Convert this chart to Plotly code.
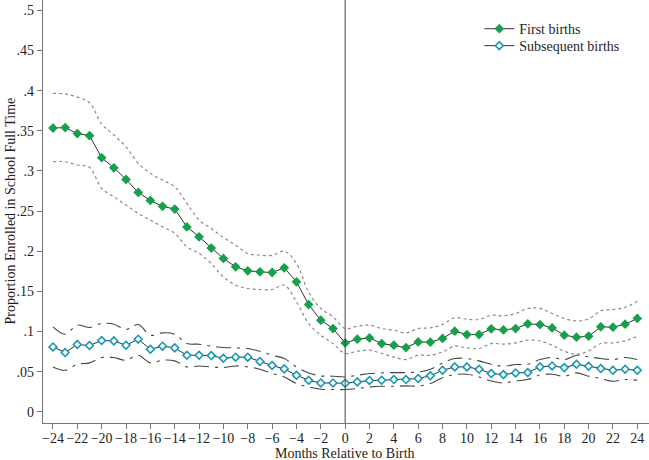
import plotly.graph_objects as go

months = list(range(-24, 25))

first_births = [0.3535, 0.354, 0.3466, 0.344, 0.3165, 0.304, 0.2895, 0.2733, 0.2633, 0.2559,
                0.2525, 0.2303, 0.218, 0.2039, 0.191, 0.1806, 0.1756, 0.1743, 0.1735, 0.1793,
                0.1619, 0.1336, 0.1141, 0.1037, 0.0858, 0.0904, 0.092, 0.085, 0.0829, 0.080,
                0.087, 0.0867, 0.0913, 0.1004, 0.0962, 0.0962, 0.1033, 0.102, 0.1037, 0.1095,
                0.1087, 0.1045, 0.0954, 0.0929, 0.0941, 0.1058, 0.1054, 0.1091, 0.1162]

first_upper = [0.3965, 0.396, 0.392, 0.385, 0.3585, 0.3448, 0.330, 0.3095, 0.297, 0.2886,
               0.2803, 0.2596, 0.2388, 0.2284, 0.2172, 0.2076, 0.1972, 0.1951, 0.1948, 0.2001,
               0.1848, 0.149, 0.1287, 0.1182, 0.1037, 0.1066, 0.1079, 0.1037, 0.1016, 0.0983,
               0.1037, 0.1045, 0.1089, 0.117, 0.1153, 0.115, 0.1203, 0.1195, 0.1224, 0.1287,
               0.1287, 0.1224, 0.1162, 0.1133, 0.1157, 0.1257, 0.1274, 0.130, 0.1378]

first_lower = [0.3115, 0.3115, 0.3074, 0.3045, 0.2783, 0.2678, 0.2575, 0.2471, 0.2388, 0.2304,
               0.2222, 0.2055, 0.1973, 0.1848, 0.168, 0.1577, 0.1536, 0.1523, 0.1523, 0.1577,
               0.1369, 0.110, 0.0954, 0.085, 0.0726, 0.0754, 0.0767, 0.0726, 0.0683, 0.065,
               0.0704, 0.0704, 0.0746, 0.0817, 0.0796, 0.0788, 0.085, 0.0842, 0.0858, 0.0892,
               0.0883, 0.0829, 0.0754, 0.0717, 0.0758, 0.085, 0.0858, 0.0883, 0.0941]

subsequent_births = [0.0808, 0.0738, 0.0838, 0.0825, 0.0888, 0.0883, 0.0829, 0.0904, 0.0779, 0.0817,
                     0.0796, 0.0704, 0.0704, 0.070, 0.0667, 0.068, 0.068, 0.0626, 0.0576, 0.0534,
                     0.0455, 0.0393, 0.0359, 0.0359, 0.0355, 0.0372, 0.0389, 0.0393, 0.0401, 0.0401,
                     0.0414, 0.0449, 0.0517, 0.0559, 0.0559, 0.053, 0.0476, 0.0463, 0.0484, 0.0488,
                     0.0559, 0.0571, 0.055, 0.0592, 0.0567, 0.0538, 0.0517, 0.053, 0.0517]

subsequent_upper = [0.1057, 0.0966, 0.1079, 0.105, 0.110, 0.1091, 0.1025, 0.1087, 0.0954, 0.0983,
                    0.0966, 0.085, 0.0842, 0.0817, 0.080, 0.0796, 0.0788, 0.0754, 0.0704, 0.0663,
                    0.0559, 0.0484, 0.0447, 0.0443, 0.0434, 0.0455, 0.0476, 0.0484, 0.0488, 0.0488,
                    0.0496, 0.053, 0.0605, 0.0663, 0.0663, 0.0634, 0.0592, 0.0567, 0.0588, 0.0592,
                    0.065, 0.0676, 0.065, 0.0704, 0.0684, 0.0663, 0.065, 0.0676, 0.065]

subsequent_lower = [0.0559, 0.0517, 0.0592, 0.0609, 0.0676, 0.0676, 0.0642, 0.0704, 0.0609, 0.0642,
                    0.0634, 0.0559, 0.0571, 0.0559, 0.0551, 0.0571, 0.0559, 0.053, 0.0476, 0.0434,
                    0.0351, 0.0309, 0.028, 0.0277, 0.0277, 0.0289, 0.0309, 0.0318, 0.0318, 0.0322,
                    0.0322, 0.0351, 0.0424, 0.0463, 0.0468, 0.0434, 0.0384, 0.0359, 0.0384, 0.0401,
                    0.0459, 0.0468, 0.0443, 0.0484, 0.0443, 0.0414, 0.038, 0.0401, 0.0393]

x_tick_vals = list(range(-24, 25, 2))
x_tick_text = [("\u2212" + str(-v)) if v < 0 else str(v) for v in x_tick_vals]
y_tick_vals = [0, 0.05, 0.1, 0.15, 0.2, 0.25, 0.3, 0.35, 0.4, 0.45, 0.5]
y_tick_text = ["0", ".05", ".1", ".15", ".2", ".25", ".3", ".35", ".4", ".45", ".5"]

FONT = "Liberation Serif"
GREEN = "#16a04a"
TEAL = "#1898b5"
TEXT = "#1e1e1e"

fig = go.Figure()

for ys in (first_upper, first_lower):
    fig.add_trace(go.Scatter(x=months, y=ys, mode="lines", showlegend=False, hoverinfo="skip",
                             line=dict(color="#8a8a8a", width=1.2, dash="dot", shape="spline")))
for ys in (subsequent_upper, subsequent_lower):
    fig.add_trace(go.Scatter(x=months, y=ys, mode="lines", showlegend=False, hoverinfo="skip",
                             line=dict(color="#444444", width=1.1, dash="longdashdot", shape="spline")))

fig.add_trace(go.Scatter(x=months, y=first_births, mode="lines+markers", name="First births",
                         legend="legend",
                         line=dict(color="#333333", width=1),
                         marker=dict(symbol="diamond", size=7.5, color=GREEN,
                                     line=dict(color=GREEN, width=0))))
fig.add_trace(go.Scatter(x=months, y=subsequent_births, mode="lines+markers", name="Subsequent births",
                         legend="legend2",
                         line=dict(color="#333333", width=1),
                         marker=dict(symbol="diamond", size=6, color="white",
                                     line=dict(color=TEAL, width=1.6))))

fig.add_shape(type="line", x0=0, x1=0, y0=0, y1=1, xref="x", yref="paper",
              line=dict(color="#444444", width=1))

fig.add_annotation(text="Months Relative to Birth", xref="x", yref="paper", x=0, y=0,
                   yshift=-30, xanchor="center", yanchor="middle", showarrow=False,
                   font=dict(family=FONT, size=14, color=TEXT))
fig.add_annotation(text="Proportion Enrolled in School Full Time", xref="paper", yref="paper",
                   x=0, y=0.5, xshift=-33, xanchor="center", yanchor="middle", textangle=-90,
                   showarrow=False, font=dict(family=FONT, size=14, color=TEXT))

legend_common = dict(x=0.72, xanchor="left", yanchor="top", bgcolor="rgba(0,0,0,0)",
                     font=dict(family=FONT, size=14, color=TEXT), itemwidth=30)

fig.update_layout(
    width=649, height=460,
    margin=dict(l=43, r=0, t=0, b=37, autoexpand=False),
    paper_bgcolor="white", plot_bgcolor="white",
    font=dict(family=FONT, size=14, color=TEXT),
    showlegend=True,
    legend=dict(y=0.969, **legend_common),
    legend2=dict(y=0.929, **legend_common),
    xaxis=dict(range=[-24.82, 24.96], tickmode="array", tickvals=x_tick_vals, ticktext=x_tick_text,
               showgrid=False, zeroline=False, showline=True, linecolor="#777777", linewidth=1.2,
               ticks="outside", ticklen=5, tickcolor="#777777", automargin=False,
               ticklabelstandoff=-3,
               tickfont=dict(family=FONT, size=14, color=TEXT)),
    yaxis=dict(range=[-0.014, 0.513], tickmode="array", tickvals=y_tick_vals, ticktext=y_tick_text,
               showgrid=False, zeroline=False, showline=True, linecolor="#777777", linewidth=1.2,
               ticks="outside", ticklen=5, tickcolor="#777777", automargin=False,
               tickfont=dict(family=FONT, size=14, color=TEXT)),
)

fig.write_html("out.html", config={"displayModeBar": False},
               post_script="document.body.style.margin='0';document.body.style.overflow='hidden';")
